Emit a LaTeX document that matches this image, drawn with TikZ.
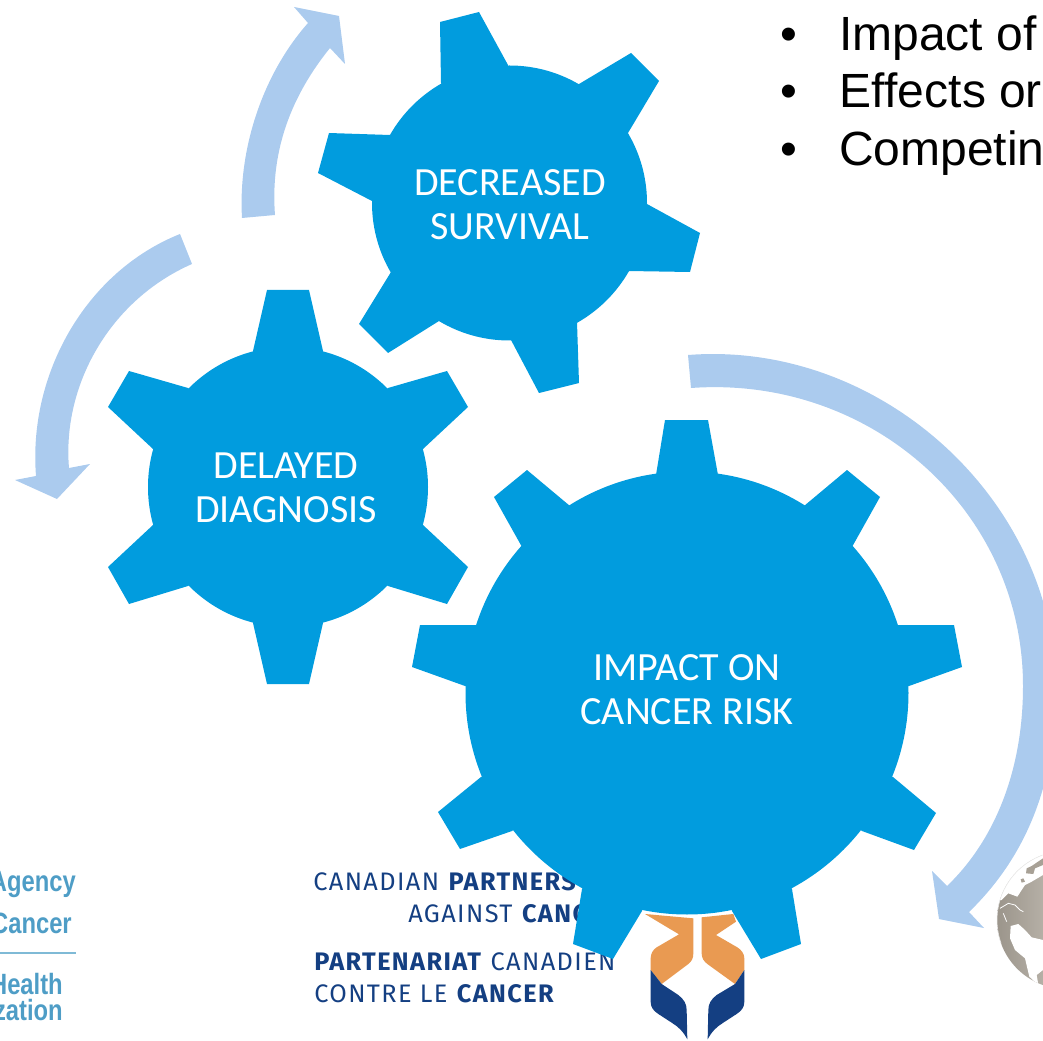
\documentclass[tikz,border=0pt]{standalone}
\usepackage{fontspec}
\setmainfont{Liberation Sans}
\newfontfamily\carlito{Carlito}
\newfontfamily\finfont[LetterSpace=5.5]{Fira Sans}
\definecolor{gearblue}{HTML}{019CDE}
\definecolor{arrowblue}{HTML}{ABCBEE}
\definecolor{logoorange}{HTML}{E99A52}
\definecolor{logonavy}{HTML}{143F82}
\definecolor{agencyblue}{HTML}{4E9DC6}
\definecolor{agencyrule}{HTML}{7FBAD6}
\definecolor{globegray}{HTML}{A8A196}
\tikzset{
  gearfill/.style={fill=gearblue},
  arrowfill/.style={fill=arrowblue},
  gearlabel/.style={text=white,align=center,font=\carlito\fontsize{30}{33}\selectfont,inner sep=0pt},
  bullettext/.style={anchor=base west,inner sep=0pt,font=\fontsize{36}{36}\selectfont},
  partner/.style={anchor=base west,inner sep=0pt,text=logonavy,font=\finfont\fontsize{19}{19}\selectfont},
  agency/.style={anchor=base east,inner sep=0pt,text=agencyblue,font=\bfseries\fontsize{22}{22}\selectfont},
}
\newcommand{\toothshape}[5]{\fill[gearfill] #1 -- #2 -- #3 -- #4 -- #5 -- cycle;}
\newcommand{\narrowtext}[1]{\scalebox{.81}[1]{#1}}
\begin{document}
\begin{tikzpicture}[x=0.75pt,y=-0.75pt]
\useasboundingbox (0,0) rectangle (1043,1041);
\clip (0,0) rectangle (1043,1041);

% left logo
\node[agency] (ag1) at (76,891) {\narrowtext{Agency}};
\node[agency] (ag2) at (72,933) {\narrowtext{Cancer}};
\fill[agencyrule] (0,952.3) rectangle (76,953.8);
\node[agency] (ag3) at (63,994) {\narrowtext{Health}};
\node[agency] (ag4) at (63,1020) {\narrowtext{zation}};

% partnership logo text
\node[partner] (cp1) at (313,890) {CANADIAN \textbf{PARTNERS}};
\node[partner] (cp2) at (408,922) {AGAINST \textbf{CANC}};
\node[partner] (cp3) at (314,970) {\textbf{PARTENARIAT} CANADIEN};
\node[partner] (cp4) at (314,1002) {CONTRE LE \textbf{CANCER}};

% partnership emblem
\begin{scope}[shift={(300,840)},scale=0.33333]
\fill[logoorange] (1035,222) -- (1180,235) -- (1180,340) .. controls (1180,355) and (1175,364) .. (1165,372) -- (1085,432) -- (1052,390) -- (1052,355) .. controls (1052,340) and (1060,328) .. (1070,322) -- (1137,283) -- cycle;
\fill[logoorange] (1205,232) -- (1300,222) -- (1308,245) -- (1248,285) -- (1312,322) .. controls (1325,330) and (1333,342) .. (1333,355) -- (1333,390) -- (1305,432) -- (1222,372) .. controls (1212,364) and (1205,355) .. (1205,340) -- cycle;
\fill[logonavy] (1052,390) -- (1085,432) -- (1135,465) .. controls (1152,478) and (1160,492) .. (1160,510) -- (1162,598) .. controls (1150,575) and (1135,560) .. (1115,548) -- (1075,522) .. controls (1060,512) and (1052,502) .. (1052,485) -- cycle;
\fill[logonavy] (1333,390) -- (1305,432) -- (1250,465) .. controls (1233,478) and (1225,492) .. (1225,510) -- (1223,598) .. controls (1235,575) and (1250,560) .. (1270,548) -- (1310,522) .. controls (1325,512) and (1333,502) .. (1333,485) -- cycle;
\end{scope}

% globe
\begin{scope}
\clip (1066,920) circle (69);
\shade[left color=globegray!90!black,right color=globegray!85!white] (990,850) rectangle (1043,990);
\begin{scope}[shift={(990,850)},scale=0.33333]
\fill[white] (0,0) -- (159,0) -- (159,75) -- (125,95) -- (105,105) -- (82,140) -- (55,130) -- (35,150) -- (0,150) -- cycle;
\fill[globegray] (110,55) -- (125,48) -- (159,25) -- (159,45) -- (135,55) -- (130,72) -- (108,70) -- cycle;
\fill[globegray] (92,88) -- (100,85) -- (105,95) -- (95,98) -- cycle;
\fill[white] (62,228) -- (85,222) -- (105,240) -- (125,262) -- (159,270) -- (159,360) -- (140,375) -- (145,405) -- (118,380) -- (105,325) -- (75,300) -- (60,265) -- cycle;
\draw[white,line width=.6pt] (30,175) -- (55,160) -- (75,165) -- (90,180) -- (100,185);
\draw[white,line width=.6pt] (40,190) -- (50,215);
\end{scope}
\end{scope}
\draw[black!8,line width=0.4pt] (1043,855) arc[start angle=-109.5,end angle=-200,radius=69];

% arrows
\fill[arrowfill] (242,218) .. controls (238,150) and (262,75) .. (308,23) -- (294,7) -- (339,16) -- (345,64) -- (330,48) .. controls (292,95) and (270,150) .. (275,215) -- cycle;
\fill[arrowfill] (180,234) .. controls (85,272) and (28,375) .. (36,476) -- (15,480) -- (57,499) -- (90,464) -- (69,468) .. controls (62,385) and (110,300) .. (192,264) -- cycle;
\fill[arrowfill] (688,355) .. controls (880,340) and (1056,500) .. (1056,690) .. controls (1056,780) and (1028,855) .. (969,912) -- (984,928) -- (939,919) -- (932,871) -- (947,886) .. controls (995,840) and (1023,770) .. (1023,686) .. controls (1023,510) and (870,375) .. (691,388) -- cycle;

% gear: delayed diagnosis
\fill[gearfill] (288,487) circle (140);
\toothshape{(288,487)}{(253,351)}{(267,290)}{(309,290)}{(323,351)}
\toothshape{(288,487)}{(188,388)}{(129,371)}{(108,407)}{(153,449)}
\toothshape{(288,487)}{(388,388)}{(447,371)}{(468,407)}{(423,449)}
\toothshape{(288,487)}{(253,623)}{(267,684)}{(309,684)}{(323,623)}
\toothshape{(288,487)}{(153,525)}{(108,567)}{(129,604)}{(188,586)}
\toothshape{(288,487)}{(423,525)}{(468,567)}{(447,604)}{(388,586)}

% gear: decreased survival
\fill[gearfill] (509.5,203) circle (137.5);
\toothshape{(509.5,203)}{(441,83)}{(440,22)}{(479,12)}{(508,65)}
\toothshape{(509.5,203)}{(579,84)}{(631,53)}{(659,81)}{(628,133)}
\toothshape{(509.5,203)}{(647,204)}{(700,233)}{(690,272)}{(628,271)}
\toothshape{(509.5,203)}{(577,322)}{(579,383)}{(539,393)}{(511,340)}
\toothshape{(509.5,203)}{(439,321)}{(388,353)}{(359,324)}{(391,272)}
\toothshape{(509.5,203)}{(372,201)}{(318,173)}{(329,133)}{(390,135)}

% gear: impact on cancer risk
\fill[gearfill] (687,693) circle (221.5);
\toothshape{(687,693)}{(656,475)}{(665,420)}{(708,420)}{(718,475)}
\toothshape{(687,693)}{(804,506)}{(847,470)}{(880,497)}{(852,547)}
\toothshape{(687,693)}{(898,625)}{(954,625)}{(962,667)}{(909,686)}
\toothshape{(687,693)}{(893,777)}{(936,813)}{(914,850)}{(862,831)}
\toothshape{(687,693)}{(792,889)}{(801,944)}{(761,959)}{(732,911)}
\toothshape{(687,693)}{(582,889)}{(573,944)}{(613,959)}{(642,911)}
\toothshape{(687,693)}{(481,777)}{(438,812)}{(460,849)}{(512,831)}
\toothshape{(687,693)}{(476,625)}{(420,625)}{(412,667)}{(465,686)}
\toothshape{(687,693)}{(570,506)}{(527,470)}{(494,497)}{(522,547)}

% gear labels
\node[gearlabel] (survival) at (510,205) {DECREASED\\SURVIVAL};
\node[gearlabel] (diagnosis) at (286,487.5) {DELAYED\\DIAGNOSIS};
\node[gearlabel] (risk) at (687,690) {IMPACT ON\\CANCER RISK};

% bullets
\node[bullettext] (b1) at (780,51) {•};
\node[bullettext] (t1) at (839,51) {Impact of};
\node[bullettext] (b2) at (780,108) {•};
\node[bullettext] (t2) at (839,108) {Ef\kern0pt fects or};
\node[bullettext] (b3) at (780,166) {•};
\node[bullettext] (t3) at (839,166) {Competin};
\end{tikzpicture}
\end{document}
